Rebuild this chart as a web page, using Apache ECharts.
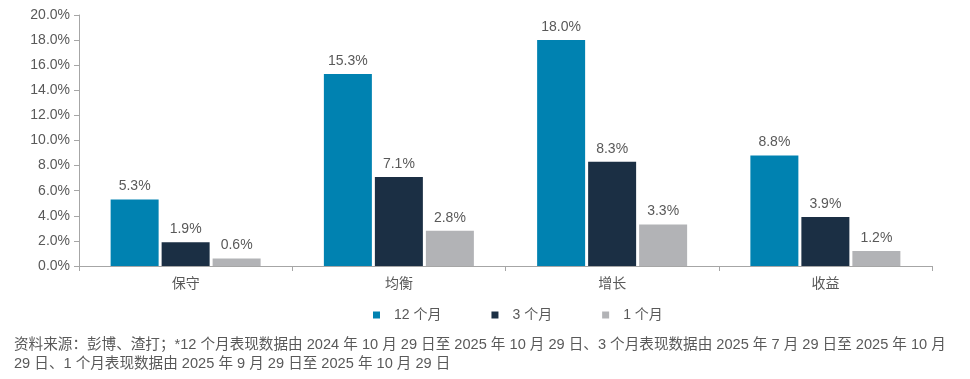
<!DOCTYPE html>
<html>
<head>
<meta charset="utf-8">
<script src="https://cdn.jsdelivr.net/npm/echarts@6/dist/echarts.min.js"></script>
<style>
html,body{margin:0;padding:0;background:#fff;}
#c{width:970px;height:379px;}
</style>
</head>
<body>
<div id="c"></div>
<script>
var categories = ['保守', '均衡', '增长', '收益'];
var seriesNames = ['12 个月', '3 个月', '1 个月'];
var s12m = [5.3, 15.3, 18.0, 8.8];
var s3m = [1.9, 7.1, 8.3, 3.9];
var s1m = [0.6, 2.8, 3.3, 1.2];
var colors = ['#0082B1', '#1B2F44', '#B2B3B6'];
var footnote = '资料来源：彭博、渣打；*12 个月表现数据由 2024 年 10 月 29 日至 2025 年 10 月 29 日、3 个月表现数据由 2025 年 7 月 29 日至 2025 年 10 月\n29 日、1 个月表现数据由 2025 年 9 月 29 日至 2025 年 10 月 29 日';

var FONT = "'Liberation Sans', Arial, 'Noto Sans CJK SC', sans-serif";
var TXT = '#595959';
var AXIS = '#A6A6A6';

var chart = echarts.init(document.getElementById('c'), null, {renderer: 'canvas'});
function mk(name, data, color) {
  return {
    name: name,
    type: 'bar',
    data: data,
    barWidth: 48,
    barGap: '6.25%',
    itemStyle: {color: color},
    label: {
      show: true,
      position: 'top',
      distance: 6,
      color: TXT,
      fontFamily: FONT,
      fontSize: 14,
      formatter: function (p) { return p.value.toFixed(1) + '%'; }
    }
  };
}
chart.setOption({
  animation: false,
  textStyle: {fontFamily: FONT},
  grid: {left: 79, right: 38, top: 15, bottom: 113, containLabel: false},
  legend: {
    data: seriesNames,
    top: 303,
    left: 368,
    icon: 'rect',
    itemWidth: 7,
    itemHeight: 7,
    itemGap: 50,
    textStyle: {color: TXT, fontSize: 14, fontFamily: FONT, padding: [0, 0, 0, 9]}
  },
  xAxis: {
    type: 'category',
    data: categories,
    axisLine: {lineStyle: {color: AXIS}},
    axisTick: {show: true, length: 5, lineStyle: {color: AXIS}},
    axisLabel: {color: TXT, fontSize: 14, fontFamily: FONT, margin: 11}
  },
  yAxis: {
    type: 'value',
    min: 0,
    max: 20,
    interval: 2,
    splitLine: {show: false},
    axisLine: {show: true, lineStyle: {color: AXIS}},
    axisTick: {show: true, length: 5, lineStyle: {color: AXIS}},
    axisLabel: {
      color: TXT, fontSize: 14, fontFamily: FONT, margin: 9,
      formatter: function (v) { return v.toFixed(1) + '%'; }
    }
  },
  series: [mk(seriesNames[0], s12m, colors[0]), mk(seriesNames[1], s3m, colors[1]), mk(seriesNames[2], s1m, colors[2])],
  graphic: [{
    type: 'text',
    left: 14,
    top: 335,
    style: {text: footnote, fill: TXT, font: '14.6px ' + FONT, lineHeight: 19}
  }]
});
</script>
</body>
</html>
